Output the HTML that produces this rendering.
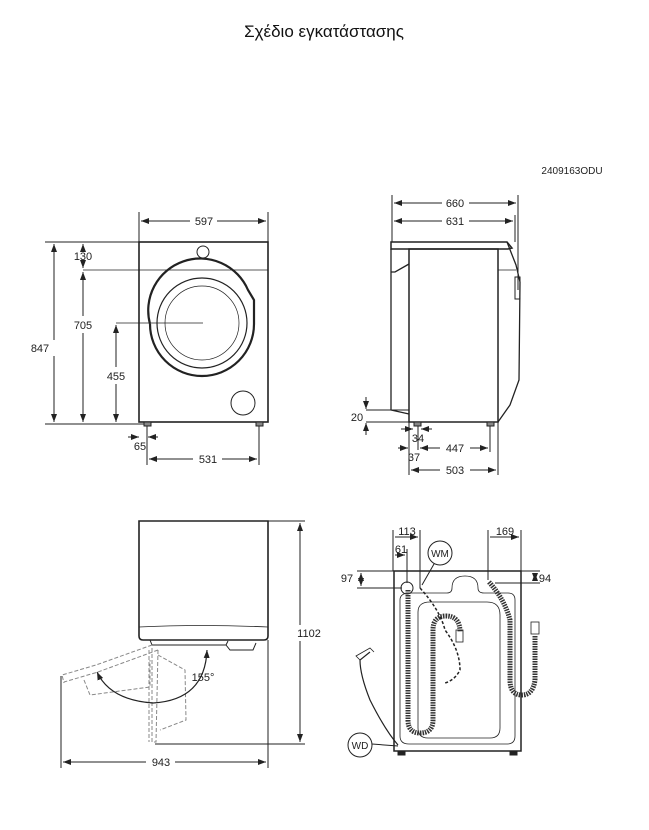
<!DOCTYPE html>
<html><head><meta charset="utf-8"><style>
html,body{margin:0;padding:0;background:#fff;}
svg{display:block;font-family:"Liberation Sans",Arial,sans-serif;}
</style></head><body>
<svg width="649" height="830" viewBox="0 0 649 830" xmlns="http://www.w3.org/2000/svg">
<defs>
<marker id="a" markerWidth="8" markerHeight="6" refX="8" refY="3" orient="auto-start-reverse" markerUnits="userSpaceOnUse"><path d="M0,0 L8,3 L0,6 z" fill="#222"/></marker>
</defs>
<text x="324" y="37" font-size="17" text-anchor="middle" fill="#111">Σχέδιο εγκατάστασης</text>
<text x="572" y="174" font-size="10" text-anchor="middle" fill="#222">2409163ODU</text>
<g stroke="#222" fill="none" stroke-width="1" font-size="11">
<!-- FRONT VIEW -->
<rect x="139" y="242" width="129" height="180" stroke-width="1.6"/>
<line x1="83" y1="270" x2="268" y2="270" stroke-width="0.8"/>
<circle cx="203" cy="252" r="6"/>
<path d="M150,324 A52,52 0 1 0 254,324 L254,300 L248,290 A52,52 0 0 0 150,324" stroke-width="2.2"/>
<circle cx="202" cy="323" r="45" stroke-width="1.2"/>
<circle cx="202" cy="323" r="37" stroke-width="0.7"/>
<circle cx="243" cy="403" r="12"/>
<rect x="144" y="422" width="7" height="4" fill="#888"/><rect x="256" y="422" width="7" height="4" fill="#888"/>
<line x1="139" y1="212" x2="139" y2="242"/><line x1="268" y1="212" x2="268" y2="242"/>
<line x1="141" y1="221" x2="190" y2="221" marker-start="url(#a)"/><line x1="217" y1="221" x2="266" y2="221" marker-end="url(#a)"/>
<line x1="45" y1="242" x2="139" y2="242"/><line x1="45" y1="424" x2="144" y2="424"/>
<line x1="54" y1="244" x2="54" y2="340" marker-start="url(#a)"/><line x1="54" y1="356" x2="54" y2="422" marker-end="url(#a)"/>
<line x1="83" y1="244" x2="83" y2="249" marker-start="url(#a)"/><line x1="83" y1="263" x2="83" y2="268" marker-end="url(#a)"/>
<line x1="83" y1="272" x2="83" y2="316" marker-start="url(#a)"/><line x1="83" y1="333" x2="83" y2="422" marker-end="url(#a)"/>
<line x1="116" y1="323" x2="203" y2="323" stroke-width="0.8"/>
<line x1="116" y1="325" x2="116" y2="367" marker-start="url(#a)"/><line x1="116" y1="384" x2="116" y2="422" marker-end="url(#a)"/>
<line x1="128" y1="437" x2="139" y2="437" marker-end="url(#a)"/><line x1="158" y1="437" x2="148" y2="437" marker-end="url(#a)"/>
<line x1="147" y1="426" x2="147" y2="465"/><line x1="259" y1="426" x2="259" y2="465"/>
<line x1="149" y1="459" x2="193" y2="459" marker-start="url(#a)"/><line x1="222" y1="459" x2="257" y2="459" marker-end="url(#a)"/>
<!-- SIDE VIEW -->
<path d="M391,242 L507,242 L512,248 L508,249 L391,249 z" stroke-width="1.5"/>
<rect x="409" y="249" width="89" height="173" stroke-width="1.5"/>
<path d="M391,249 L391,410 L409,414 M409,264 L395,272 L391,272" stroke-width="1.3"/>
<path d="M507,242 L516,265 L520,282 L519,380 L510,405 L498,422" stroke-width="1.3"/>
<line x1="498" y1="270" x2="516" y2="270" stroke-width="0.7"/>
<rect x="515" y="277" width="5" height="22" stroke-width="1"/>
<rect x="414" y="422" width="7" height="4" fill="#888"/><rect x="487" y="422" width="7" height="4" fill="#888"/>
<line x1="392" y1="195" x2="392" y2="242"/><line x1="518" y1="195" x2="518" y2="290"/><line x1="515" y1="215" x2="515" y2="242"/>
<line x1="394" y1="203" x2="442" y2="203" marker-start="url(#a)"/><line x1="469" y1="203" x2="516" y2="203" marker-end="url(#a)"/>
<line x1="394" y1="221" x2="442" y2="221" marker-start="url(#a)"/><line x1="469" y1="221" x2="513" y2="221" marker-end="url(#a)"/>
<line x1="366" y1="410" x2="409" y2="410"/><line x1="366" y1="422" x2="409" y2="422"/>
<line x1="366" y1="397" x2="366" y2="409" marker-end="url(#a)"/><line x1="366" y1="435" x2="366" y2="423" marker-end="url(#a)"/>
<line x1="401" y1="429" x2="413" y2="429" marker-end="url(#a)"/><line x1="432" y1="429" x2="421" y2="429" marker-end="url(#a)"/>
<line x1="398" y1="448" x2="408" y2="448" marker-end="url(#a)"/>
<line x1="409" y1="422" x2="409" y2="475"/><line x1="418" y1="426" x2="418" y2="450"/><line x1="490" y1="426" x2="490" y2="452"/><line x1="498" y1="422" x2="498" y2="475"/>
<line x1="420" y1="448" x2="440" y2="448" marker-start="url(#a)"/><line x1="470" y1="448" x2="488" y2="448" marker-end="url(#a)"/>
<line x1="411" y1="470" x2="440" y2="470" marker-start="url(#a)"/><line x1="470" y1="470" x2="496" y2="470" marker-end="url(#a)"/>
<!-- DOOR OPEN VIEW -->
<path d="M139,521 L268,521 L268,636 Q268,640 264,640 L143,640 Q139,640 139,636 z" stroke-width="1.6"/>
<path d="M139,627 Q200,624 268,627" stroke-width="0.8"/>
<path d="M150,640 L152,645 L226,645 L228,641 M226,645 L230,650 L253,650 L256,643" stroke-width="1"/>
<g stroke="#888" stroke-dasharray="4,2">
<path d="M152,645 L96,665 L62,675 L64,683 M158,650 L98,672 L64,682"/>
<path d="M84,680 L90,695 L150,687 L150,660"/>
<path d="M152,648 L152,742 L156,742 L158,650 M149,650 L149,742"/>
<path d="M158,655 L185,670 L186,720 L160,730"/>
</g>
<path d="M207,650 Q205,700 153,703 Q110,700 97,672" marker-start="url(#a)" marker-end="url(#a)" stroke-width="1.2"/>
<line x1="268" y1="521" x2="305" y2="521"/><line x1="155" y1="744" x2="305" y2="744"/>
<line x1="300" y1="523" x2="300" y2="625" marker-start="url(#a)"/><line x1="300" y1="641" x2="300" y2="742" marker-end="url(#a)"/>
<line x1="61" y1="676" x2="61" y2="768"/><line x1="268" y1="640" x2="268" y2="768"/>
<line x1="63" y1="762" x2="146" y2="762" marker-start="url(#a)"/><line x1="175" y1="762" x2="266" y2="762" marker-end="url(#a)"/>
<!-- BACK VIEW -->
<rect x="394" y="571" width="127" height="180" stroke-width="1.5"/>
<rect x="398" y="751" width="7" height="4" fill="#222"/><rect x="510" y="751" width="7" height="4" fill="#222"/>
<path d="M400,600 Q400,593 410,593 L447,593 Q452,593 452,588 Q452,576 465,576 Q478,576 478,588 Q478,593 484,593 L508,593 Q515,593 515,600 L515,736 Q515,744 507,744 L409,744 Q400,744 400,736 z" stroke-width="0.8"/>
<path d="M418,612 Q418,602 430,602 L487,602 Q500,602 500,615 L500,728 Q500,738 490,738 L428,738 Q418,738 418,728 z" stroke-width="0.8"/>
<circle cx="407" cy="588" r="6"/>
<path d="M408,590 L408,720 Q408,733 420,733 Q433,733 433,720 L433,630 Q433,616 446,616 Q460,616 460,632" stroke="#333" stroke-width="5" stroke-dasharray="1.5,1"/>
<rect x="456" y="630" width="7" height="12" stroke-width="0.8"/>
<path d="M420,588 Q440,610 445,630 Q460,650 460,670 Q455,680 445,683" stroke-width="1.5" stroke-dasharray="3,2"/>
<path d="M489,582 Q505,600 510,620 L510,680 Q510,695 522,695 Q533,695 535,680 L535,635" stroke="#333" stroke-width="5" stroke-dasharray="1.5,1"/>
<rect x="531" y="622" width="8" height="12" stroke-width="0.8"/>
<path d="M398,745 Q385,730 370,700 Q360,675 360,660 L370,652" stroke-width="1.2"/>
<path d="M360,660 L356,656 L370,648 L374,652" stroke-width="0.8"/>
<line x1="393" y1="530" x2="393" y2="571"/><line x1="420" y1="530" x2="420" y2="588"/><line x1="407" y1="549" x2="407" y2="583"/>
<line x1="395" y1="537" x2="418" y2="537" marker-end="url(#a)"/><line x1="395" y1="555" x2="405" y2="555" marker-end="url(#a)"/>
<line x1="488" y1="530" x2="488" y2="580"/><line x1="521" y1="530" x2="521" y2="571"/>
<line x1="490" y1="537" x2="519" y2="537" marker-end="url(#a)"/>
<line x1="357" y1="571" x2="394" y2="571"/><line x1="357" y1="588" x2="402" y2="588"/>
<line x1="361" y1="573" x2="361" y2="586" marker-start="url(#a)" marker-end="url(#a)"/>
<line x1="521" y1="571" x2="540" y2="571"/><line x1="495" y1="583" x2="540" y2="583"/>
<line x1="535" y1="573" x2="535" y2="581" marker-start="url(#a)" marker-end="url(#a)"/>
<circle cx="440" cy="553" r="12"/><line x1="434" y1="564" x2="422" y2="585"/>
<circle cx="360" cy="745" r="12"/><line x1="372" y1="744" x2="398" y2="746"/>
</g>
<g font-size="11" fill="#222" text-anchor="middle">
<text x="204" y="225">597</text>
<text x="40" y="352">847</text>
<text x="83" y="260">130</text>
<text x="83" y="329">705</text>
<text x="116" y="380">455</text>
<text x="140" y="450">65</text>
<text x="208" y="463">531</text>
<text x="455" y="207">660</text>
<text x="455" y="225">631</text>
<text x="357" y="421">20</text>
<text x="418" y="442">34</text>
<text x="414" y="461">37</text>
<text x="455" y="452">447</text>
<text x="455" y="474">503</text>
<text x="203" y="681">155°</text>
<text x="309" y="637">1102</text>
<text x="161" y="766">943</text>
<text x="407" y="535">113</text>
<text x="401" y="553">61</text>
<text x="505" y="535">169</text>
<text x="347" y="582">97</text>
<text x="545" y="582">94</text>
<text x="440" y="557" font-size="10">WM</text>
<text x="360" y="749" font-size="10">WD</text>
</g>
</svg>
</body></html>
